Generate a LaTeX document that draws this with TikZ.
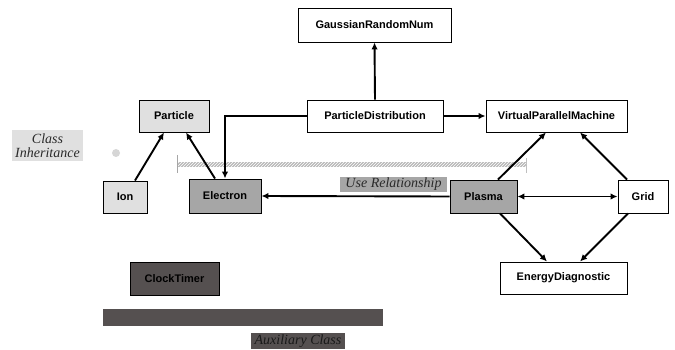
\documentclass[tikz,border=0pt]{standalone}
\usepackage{fontspec}
\setmainfont{Liberation Serif}
\setsansfont{Liberation Sans}
\usetikzlibrary{arrows.meta,patterns}
\definecolor{lightbox}{HTML}{E0E0E0}
\definecolor{midbox}{HTML}{A6A6A6}
\definecolor{darkbox}{HTML}{555050}
\definecolor{labeltext}{HTML}{2A2A2A}
\tikzset{
  cls/.style={draw=black, line width=0.9pt, rectangle, inner sep=0pt,
    font=\sffamily\bfseries\fontsize{11}{12}\selectfont, text=black},
  lbl/.style={inner sep=0pt, font=\rmfamily\itshape\fontsize{14}{15.5}\selectfont,
    text=labeltext, align=center},
  rel/.style={line width=1.9pt, -{Latex[length=7pt,width=6.5pt]}},
  birel/.style={line width=1.9pt, {Latex[length=7pt,width=6.5pt]}-{Latex[length=7pt,width=6.5pt]}},
}
\begin{document}
\begin{tikzpicture}[x=1pt,y=-1pt]
\useasboundingbox (0,0) rectangle (675,350);
% classes
\node[cls, fill=white, minimum width=153pt, minimum height=34pt] (grn) at (374.5,25) {GaussianRandomNum};
\node[cls, fill=white, minimum width=136pt, minimum height=32pt] (pd) at (375,116) {ParticleDistribution};
\node[cls, fill=white, minimum width=141pt, minimum height=32pt] (vpm) at (556.5,116) {VirtualParallelMachine};
\node[cls, fill=lightbox, minimum width=70pt, minimum height=32pt] (particle) at (174,116) {Particle};
\node[cls, fill=lightbox, minimum width=44pt, minimum height=32pt] (ion) at (125,197) {Ion};
\node[cls, fill=midbox, minimum width=72pt, minimum height=34pt] (electron) at (225,196) {Electron};
\node[cls, fill=midbox, minimum width=67pt, minimum height=33pt] (plasma) at (483.5,196.5) {Plasma};
\node[cls, fill=white, minimum width=50pt, minimum height=33pt] (grid) at (643,196.5) {Grid};
\node[cls, fill=white, minimum width=127pt, minimum height=32pt] (ed) at (563.5,278) {EnergyDiagnostic};
\node[cls, fill=darkbox, minimum width=89pt, minimum height=33pt] (clock) at (174.5,278.5) {ClockTimer};
% legend elements
\node[lbl, fill=lightbox, minimum width=71pt, minimum height=31pt] (inh) at (47.5,145.5) {Class\\[-2pt]Inheritance};
\node[circle, fill=lightbox!90!gray, minimum size=8pt, inner sep=0pt] (dot) at (116,153) {};
\path[fill=gray!55, postaction={pattern=north east lines, pattern color=white}] (177,162) rectangle (526,167);
\draw[gray!70, line width=0.4pt] (177,155) -- (177,173);
\draw[gray!50, line width=0.4pt] (526,158) -- (526,173);
\node[lbl, fill=midbox, minimum width=107pt, minimum height=15pt] (use) at (393.5,184.5) {Use Relationship};
\fill[darkbox] (103,309) rectangle (383,326);
\node[lbl, fill=darkbox, text=black!90, minimum width=94pt, minimum height=16pt] (aux) at (298,341) {Auxiliary Class};
% connectors
\draw[rel] ([xshift=10pt]ion.north) -- ([xshift=-10pt]particle.south);
\draw[rel] ([xshift=-10pt]electron.north) -- ([xshift=12pt]particle.south);
\draw[rel] (pd.west) -| (electron.north);
\draw[rel] (pd.north) -- (grn.south);
\draw[rel] (pd.east) -- (vpm.west);
\draw[rel] (plasma.west) -- (electron.east);
\draw[rel] ([xshift=14.5pt]plasma.north) -- ([xshift=-10.5pt]vpm.south);
\draw[rel] ([xshift=-16pt]grid.north) -- ([xshift=23.5pt]vpm.south);
\draw[birel] (plasma.east) -- (grid.west);
\draw[rel] ([xshift=16.5pt]plasma.south) -- ([xshift=-16.5pt]ed.north);
\draw[rel] ([xshift=-15pt]grid.south) -- ([xshift=16.5pt]ed.north);
\end{tikzpicture}
\end{document}
